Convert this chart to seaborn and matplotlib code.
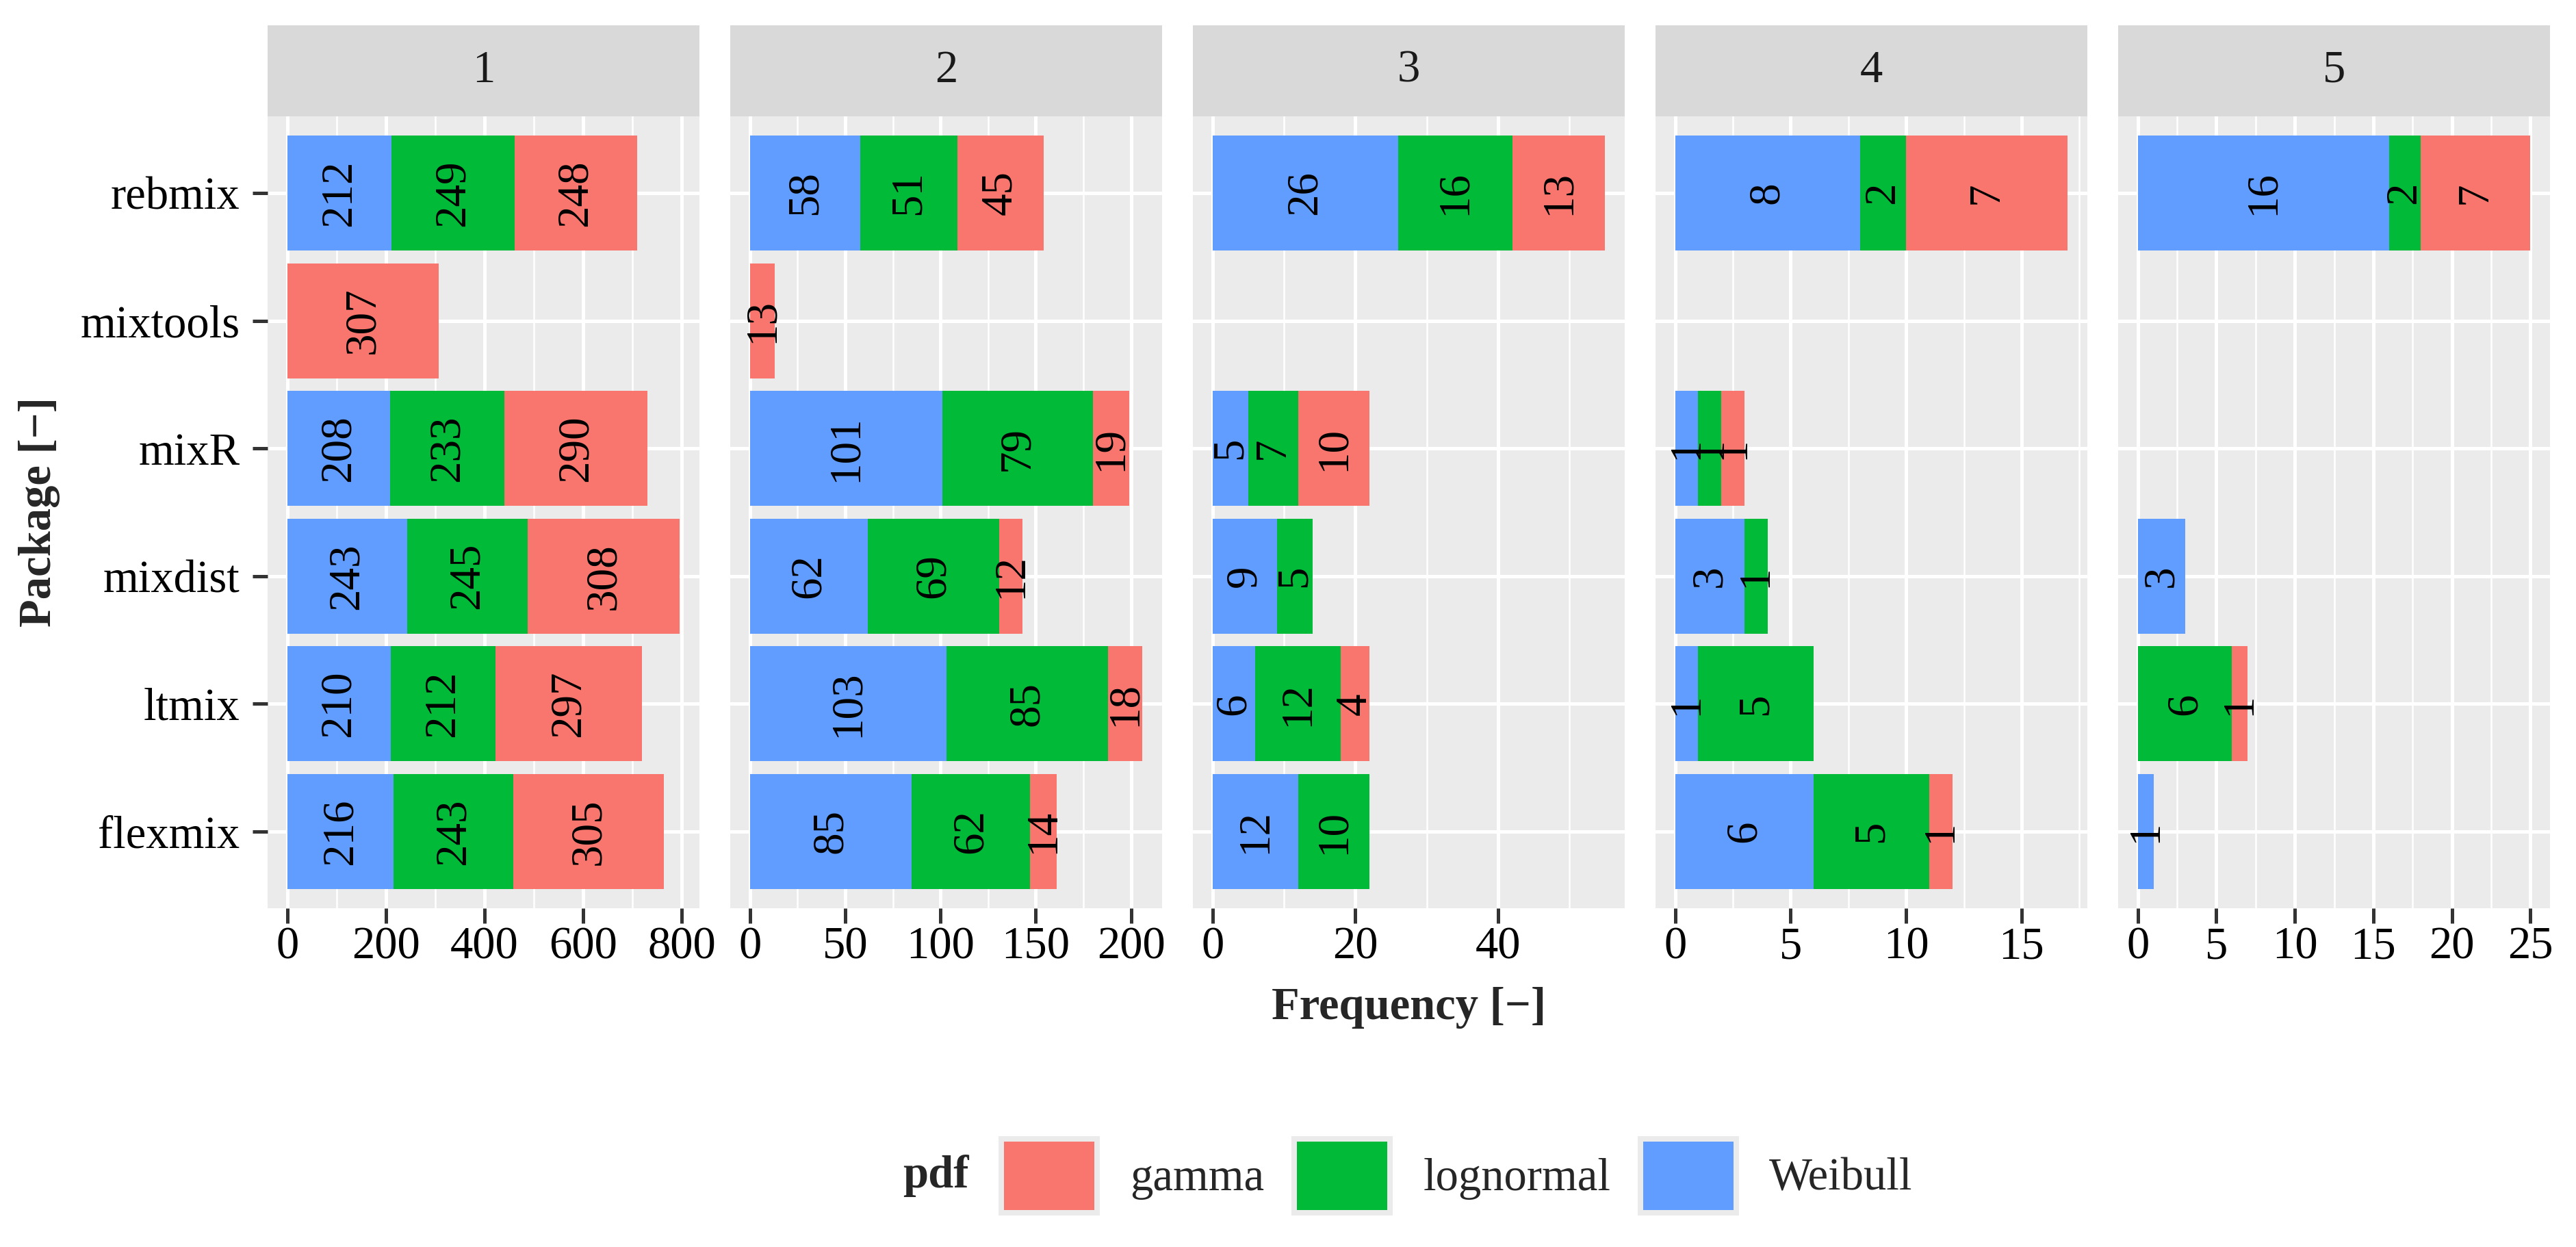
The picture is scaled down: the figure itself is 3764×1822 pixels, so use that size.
import numpy as np
import pandas as pd
import seaborn as sns
import matplotlib.pyplot as plt
from matplotlib.ticker import MultipleLocator, AutoMinorLocator
from matplotlib.patches import Patch

# data: one row per panel, packages top -> bottom
packages = ["rebmix", "mixtools", "mixR", "mixdist", "ltmix", "flexmix"]
panels = ["1", "2", "3", "4", "5"]

weibull = [
    [212, 0, 208, 243, 210, 216],
    [58, 0, 101, 62, 103, 85],
    [26, 0, 5, 9, 6, 12],
    [8, 0, 1, 3, 1, 6],
    [16, 0, 0, 3, 0, 1],
]
lognormal = [
    [249, 0, 233, 245, 212, 243],
    [51, 0, 79, 69, 85, 62],
    [16, 0, 7, 5, 12, 10],
    [2, 0, 1, 1, 5, 5],
    [2, 0, 0, 0, 6, 0],
]
gamma = [
    [248, 307, 290, 308, 297, 305],
    [45, 13, 19, 12, 18, 14],
    [13, 0, 10, 0, 4, 0],
    [7, 0, 1, 0, 0, 1],
    [7, 0, 0, 0, 1, 0],
]
major_step = [200, 50, 20, 5, 5]

colors = {"gamma": "#F8766D", "lognormal": "#00BA38", "Weibull": "#619CFF"}

sns.set_style("white")
plt.rcParams["font.family"] = ["Liberation Serif", "DejaVu Serif"]

fig = plt.figure(figsize=(3764 / 240, 1822 / 240), dpi=240)

left0, w, gap = 0.10388, 0.16764, 0.01196
bottom, top = 0.2717, 0.9067
strip_h = 0.0730

for i, p in enumerate(panels):
    x0 = left0 + i * (w + gap)
    ax = fig.add_axes([x0, bottom, w, top - bottom])
    df = pd.DataFrame({
        "package": packages,
        "Weibull": weibull[i],
        "lognormal": lognormal[i],
        "gamma": gamma[i],
    })
    df["c1"] = df["Weibull"]
    df["c2"] = df["Weibull"] + df["lognormal"]
    df["c3"] = df["c2"] + df["gamma"]

    # stacked: draw totals first, then smaller cumulative sums on top
    for col, name in [("c3", "gamma"), ("c2", "lognormal"), ("c1", "Weibull")]:
        sns.barplot(data=df, y="package", x=col, order=packages, orient="h",
                    color=colors[name], saturation=1, width=0.9,
                    linewidth=0, ax=ax, zorder=3)

    # segment labels
    for j, row in df.iterrows():
        start = 0
        for name in ["Weibull", "lognormal", "gamma"]:
            v = row[name]
            if v > 0:
                ax.text(start + v / 2, j, str(v), rotation=90, ha="center",
                        va="center", fontsize=19.5, color="black", zorder=5)
            start += v

    xmax = df["c3"].max()
    ax.set_xlim(-0.05 * xmax, 1.05 * xmax)
    ax.set_ylim(len(packages) - 0.4, -0.6)
    ax.xaxis.set_major_locator(MultipleLocator(major_step[i]))
    ax.xaxis.set_minor_locator(AutoMinorLocator(2))
    ax.set_facecolor("#EBEBEB")
    ax.grid(which="major", color="white", linewidth=1.5, zorder=0)
    ax.grid(which="minor", axis="x", color="white", linewidth=0.75, zorder=0)
    ax.set_axisbelow(True)
    for s in ax.spines.values():
        s.set_visible(False)
    ax.set_xlabel("")
    ax.set_ylabel("")
    ax.tick_params(axis="x", which="major", length=6.6, width=1.5, color="#333333",
                   labelsize=20, labelcolor="black", pad=1.5, bottom=True)
    ax.tick_params(axis="x", which="minor", length=0)
    if i == 0:
        ax.tick_params(axis="y", length=6.6, width=1.5, color="#333333",
                       labelsize=20, labelcolor="black", pad=5.5, left=True)
    else:
        ax.tick_params(axis="y", length=0, labelleft=False)

    # facet strip
    sax = fig.add_axes([x0, top, w, strip_h])
    sax.set_facecolor("#D9D9D9")
    sax.set_xticks([])
    sax.set_yticks([])
    for s in sax.spines.values():
        s.set_visible(False)
    sax.text(0.5, 0.5, p, ha="center", va="center", fontsize=20,
             color="#1A1A1A", transform=sax.transAxes)

fig.text(0.0152, (bottom + top) / 2, "Package [\u2212]", rotation=90, ha="center",
         va="center", fontsize=20, fontweight="bold")
fig.text(left0 + (5 * w + 4 * gap) / 2, 0.1918, "Frequency [\u2212]", ha="center",
         va="center", fontsize=20, fontweight="bold")

# legend
fig.text(0.3634, 0.0571, "pdf", ha="center", va="center", fontsize=20,
         fontweight="bold")
handles = [Patch(facecolor=colors[k], edgecolor="#EBEBEB", linewidth=2.4)
           for k in ["gamma", "lognormal", "Weibull"]]
fig.legend(handles, ["gamma", "lognormal", "Weibull"], loc="center left",
           bbox_to_anchor=(0.3887, 0.0571), ncol=3, frameon=False, fontsize=20,
           handlelength=2.1, handleheight=2.1, handletextpad=0.72,
           columnspacing=0.66, borderpad=0, borderaxespad=0)

fig.savefig("out.png", dpi=240)
